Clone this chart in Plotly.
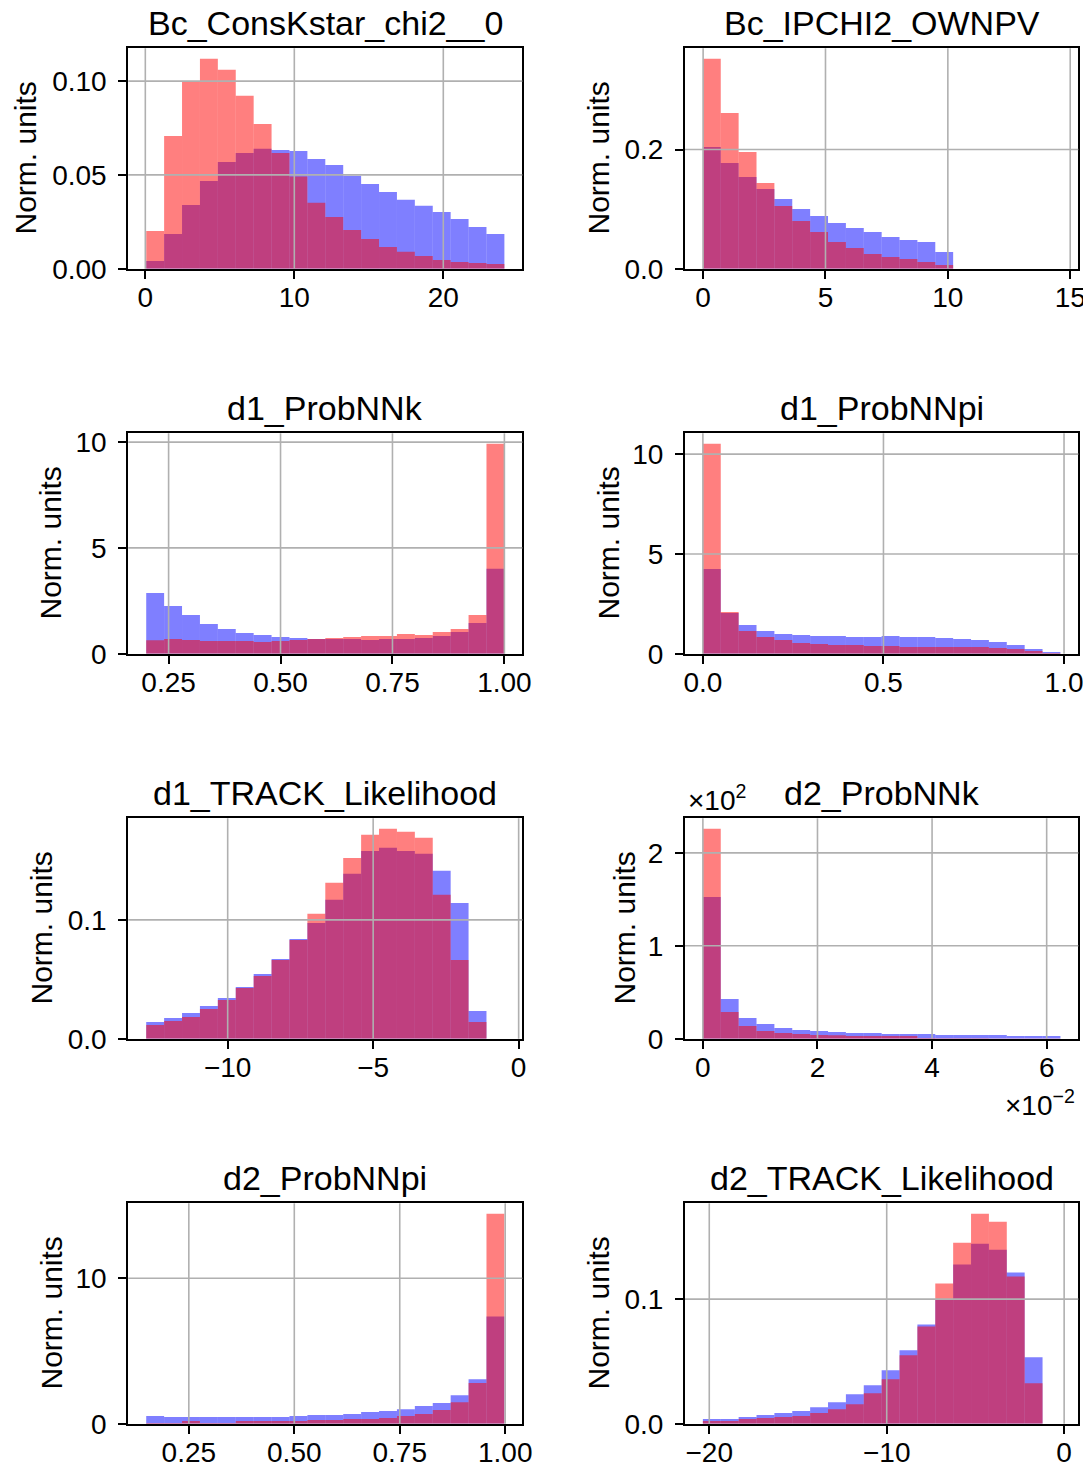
import plotly.graph_objects as go

# page is shown with the browser's default 8px body margin
OFF = 8
W, H = 1091 - OFF, 1470 - OFF
FONT = "Liberation Sans"

# ---------------- data ----------------
titles = ["Bc_ConsKstar_chi2__0", "Bc_IPCHI2_OWNPV", "d1_ProbNNk", "d1_ProbNNpi",
          "d1_TRACK_Likelihood", "d2_ProbNNk", "d2_ProbNNpi", "d2_TRACK_Likelihood"]

# histogram ranges (lower edge, upper edge), 20 bins each
bc_cons_range = [0.06, 24.1]
bc_cons_blue = [0.0041, 0.0185, 0.0340, 0.0468, 0.0569, 0.0617, 0.0639, 0.0633, 0.0628, 0.0585,
                0.0553, 0.0495, 0.0452, 0.0409, 0.0367, 0.0335, 0.0302, 0.0265, 0.0222, 0.0185]
bc_cons_red = [0.0201, 0.0708, 0.0996, 0.1119, 0.1060, 0.0922, 0.0772, 0.0617, 0.0491, 0.0351,
               0.0276, 0.0206, 0.0158, 0.0116, 0.0091, 0.0068, 0.0046, 0.0036, 0.0030, 0.0025]

bc_ip_range = [-0.01, 14.6]
bc_ip_blue = [0.2045, 0.1776, 0.1541, 0.1339, 0.1171, 0.1003, 0.0885, 0.0768, 0.0683, 0.0616,
              0.0532, 0.0482, 0.0448, 0.0280, 0, 0, 0, 0, 0, 0]
bc_ip_red = [0.3524, 0.2616, 0.1961, 0.1440, 0.1053, 0.0801, 0.0616, 0.0448, 0.0347, 0.0246,
             0.0196, 0.0162, 0.0112, 0.0062, 0, 0, 0, 0, 0, 0]

d1k_range = [0.2, 1.0]
d1k_blue = [2.87, 2.26, 1.83, 1.40, 1.17, 0.98, 0.88, 0.79, 0.74, 0.69,
            0.69, 0.69, 0.65, 0.69, 0.69, 0.74, 0.84, 1.03, 1.45, 4.01]
d1k_red = [0.63, 0.69, 0.65, 0.60, 0.60, 0.60, 0.55, 0.60, 0.65, 0.69,
           0.74, 0.79, 0.84, 0.84, 0.93, 0.88, 1.03, 1.17, 1.83, 9.92]

d1pi_range = [0.0, 0.99]
d1pi_blue = [4.25, 2.04, 1.44, 1.14, 0.99, 0.94, 0.89, 0.89, 0.84, 0.84,
             0.89, 0.84, 0.84, 0.79, 0.74, 0.69, 0.59, 0.43, 0.23, 0.08]
d1pi_red = [10.52, 2.09, 1.14, 0.84, 0.69, 0.54, 0.48, 0.43, 0.43, 0.38,
            0.38, 0.33, 0.33, 0.33, 0.33, 0.33, 0.28, 0.23, 0.13, 0.03]

d1tr_range = [-12.80, -0.49]
d1tr_blue = [0.0140, 0.0174, 0.0216, 0.0275, 0.0343, 0.0435, 0.0545, 0.0671, 0.0840, 0.0975,
             0.1169, 0.1388, 0.1581, 0.1607, 0.1581, 0.1556, 0.1413, 0.1143, 0.0233, 0]
d1tr_red = [0.0115, 0.0149, 0.0183, 0.0250, 0.0326, 0.0427, 0.0528, 0.0663, 0.0831, 0.1051,
            0.1312, 0.1522, 0.1716, 0.1767, 0.1742, 0.1691, 0.1211, 0.0663, 0.0140, 0]

d2k_range = [0.0, 0.0624]
d2k_blue = [152.6, 42.7, 22.3, 15.8, 11.5, 9.3, 8.3, 7.2, 6.1, 6.1,
            5.0, 5.0, 5.0, 3.9, 3.9, 3.9, 3.9, 2.9, 2.9, 2.9]
d2k_red = [225.9, 28.7, 13.6, 8.3, 6.1, 5.0, 3.9, 3.6, 2.9, 2.9,
           2.9, 2.9, 0.8, 0.6, 0.5, 0.4, 0.3, 0.2, 0.2, 0.1]

d2pi_range = [0.149, 0.998]
d2pi_blue = [0.53, 0.46, 0.46, 0.46, 0.46, 0.46, 0.46, 0.46, 0.53, 0.59,
             0.59, 0.66, 0.80, 0.87, 1.00, 1.21, 1.42, 1.96, 3.06, 7.37]
d2pi_red = [0.05, 0.05, 0.18, 0.05, 0.05, 0.18, 0.18, 0.18, 0.18, 0.25,
            0.25, 0.32, 0.32, 0.39, 0.53, 0.66, 0.94, 1.48, 2.79, 14.43]

d2tr_range = [-20.36, -0.21]
d2tr_blue = [0.0037, 0.0037, 0.0053, 0.0069, 0.0085, 0.0101, 0.0133, 0.0173, 0.0237, 0.0309,
             0.0429, 0.0589, 0.0797, 0.0997, 0.1277, 0.1445, 0.1397, 0.1213, 0.0533, 0]
d2tr_red = [0.0021, 0.0021, 0.0037, 0.0045, 0.0053, 0.0061, 0.0085, 0.0117, 0.0157, 0.0245,
            0.0357, 0.0549, 0.0781, 0.1125, 0.1453, 0.1685, 0.1621, 0.1181, 0.0325, 0]

# tick values / labels
x_tickvals = [[0, 10, 20], [0, 5, 10, 15], [0.25, 0.5, 0.75, 1.0], [0.0, 0.5, 1.0],
              [-10, -5, 0], [0, 0.02, 0.04, 0.06], [0.25, 0.5, 0.75, 1.0], [-20, -10, 0]]
x_ticktext = [["0", "10", "20"], ["0", "5", "10", "15"], ["0.25", "0.50", "0.75", "1.00"],
              ["0.0", "0.5", "1.0"], ["\u221210", "\u22125", "0"], ["0", "2", "4", "6"],
              ["0.25", "0.50", "0.75", "1.00"], ["\u221220", "\u221210", "0"]]
y_tickvals = [[0, 0.05, 0.10], [0, 0.2], [0, 5, 10], [0, 5, 10],
              [0, 0.1], [0, 100, 200], [0, 10], [0, 0.1]]
y_ticktext = [["0.00", "0.05", "0.10"], ["0.0", "0.2"], ["0", "5", "10"], ["0", "5", "10"],
              ["0.0", "0.1"], ["0", "1", "2"], ["0", "10"], ["0.0", "0.1"]]

ranges = [bc_cons_range, bc_ip_range, d1k_range, d1pi_range, d1tr_range, d2k_range, d2pi_range, d2tr_range]
blues = [bc_cons_blue, bc_ip_blue, d1k_blue, d1pi_blue, d1tr_blue, d2k_blue, d2pi_blue, d2tr_blue]
reds = [bc_cons_red, bc_ip_red, d1k_red, d1pi_red, d1tr_red, d2k_red, d2pi_red, d2tr_red]

# ---------------- layout geometry (screen pixels) ----------------
col_px = [(128.3, 522.3), (685.0, 1078.3)]
row_px = [(48.3, 268.7), (433.3, 653.7), (818.3, 1038.7), (1203.3, 1423.7)]
ylabel_x = [25, 598, 50, 608, 41, 624, 51, 598]

BLUE = "rgba(0,0,255,0.5)"
RED = "rgba(255,0,0,0.5)"
GRID = "#b0b0b0"

fig = go.Figure()
layout = dict(width=W, height=H, margin=dict(l=0, r=0, t=0, b=0, pad=0, autoexpand=False),
              paper_bgcolor="white", plot_bgcolor="white", barmode="overlay",
              showlegend=False, font=dict(family=FONT, color="black"))
annotations = []
shapes = []

def px2x(p):
    return (p - OFF) / W

def px2y(p):
    return 1 - (p - OFF) / H

for i in range(8):
    r, c = divmod(i, 2)
    xa = "x" if i == 0 else f"x{i+1}"
    ya = "y" if i == 0 else f"y{i+1}"
    lo, hi = ranges[i]
    n = len(blues[i])
    w = (hi - lo) / n
    centers = [lo + (k + 0.5) * w for k in range(n)]
    for vals, col in ((blues[i], BLUE), (reds[i], RED)):
        fig.add_trace(go.Bar(x=centers, y=vals, width=w, xaxis=xa, yaxis=ya,
                             marker=dict(color=col, line=dict(width=0)), hoverinfo="skip"))
    span = hi - lo
    xr = [lo - 0.05 * span, hi + 0.05 * span]
    ymax = max(max(blues[i]), max(reds[i])) * 1.05
    x0p, x1p = col_px[c]
    y0p, y1p = row_px[r]
    axcommon = dict(showline=True, mirror=True, linecolor="black", linewidth=2,
                    ticks="outside", ticklen=8, tickwidth=2, tickcolor="black",
                    showgrid=False, zeroline=False, automargin=False,
                    tickfont=dict(family=FONT, size=28, color="black"))
    layout["xaxis" if i == 0 else f"xaxis{i+1}"] = dict(
        domain=[px2x(x0p), px2x(x1p)], range=xr, anchor=ya, ticklabelstandoff=-5,
        tickmode="array", tickvals=x_tickvals[i], ticktext=x_ticktext[i], **axcommon)
    layout["yaxis" if i == 0 else f"yaxis{i+1}"] = dict(
        domain=[px2y(y1p), px2y(y0p)], range=[0, ymax], anchor=xa, ticklabelstandoff=6,
        tickmode="array", tickvals=y_tickvals[i], ticktext=y_ticktext[i], **axcommon)
    # grid lines above bars (as in reference)
    for tv in x_tickvals[i]:
        if xr[0] < tv < xr[1]:
            shapes.append(dict(type="line", xref=xa, yref=f"{ya} domain", x0=tv, x1=tv, y0=0, y1=1,
                               line=dict(color=GRID, width=1.6), layer="above"))
    for tv in y_tickvals[i]:
        if 0 < tv < ymax:
            shapes.append(dict(type="line", xref=f"{xa} domain", yref=ya, x0=0, x1=1, y0=tv, y1=tv,
                               line=dict(color=GRID, width=1.6), layer="above"))
    # title
    annotations.append(dict(text=titles[i], xref="paper", yref="paper",
                            x=px2x((x0p + x1p) / 2), y=px2y(y0p - 4), xanchor="center", yanchor="bottom",
                            showarrow=False, font=dict(family=FONT, size=34, color="black")))
    # y label
    annotations.append(dict(text="Norm. units", xref="paper", yref="paper", textangle=-90,
                            x=px2x(ylabel_x[i]), y=px2y((y0p + y1p) / 2), xanchor="center", yanchor="middle",
                            showarrow=False, font=dict(family=FONT, size=30, color="black")))

# offset/multiplier labels for d2_ProbNNk
annotations.append(dict(text="\u00d710<sup>2</sup>", xref="paper", yref="paper",
                        x=px2x(686), y=px2y(798), xanchor="left", yanchor="middle",
                        showarrow=False, font=dict(family=FONT, size=28, color="black")))
annotations.append(dict(text="\u00d710<sup>\u22122</sup>", xref="paper", yref="paper",
                        x=px2x(1077), y=px2y(1103), xanchor="right", yanchor="middle",
                        showarrow=False, font=dict(family=FONT, size=28, color="black")))

layout["annotations"] = annotations
layout["shapes"] = shapes
fig.update_layout(**layout)
fig.write_html("out.html")
